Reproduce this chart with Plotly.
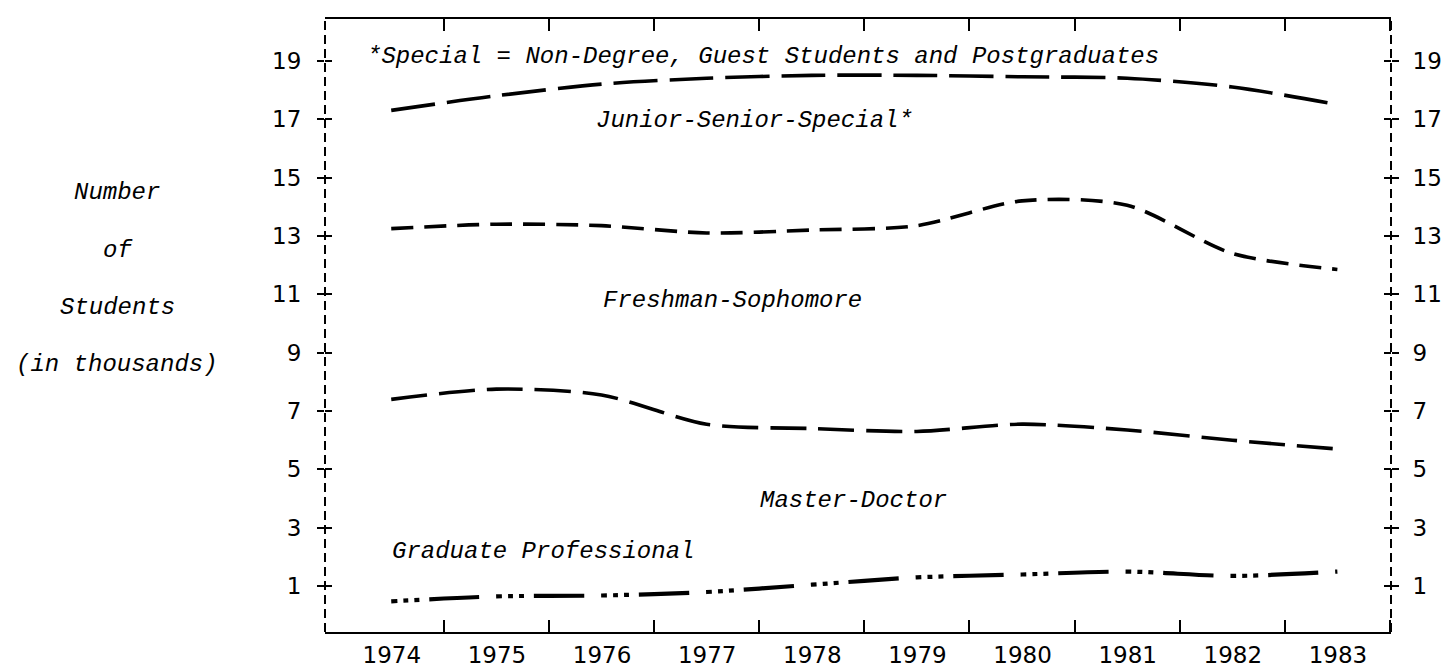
import plotly.graph_objects as go

years = [1974, 1975, 1976, 1977, 1978, 1979, 1980, 1981, 1982, 1983]
junior_senior_special = [17.3, 17.8, 18.2, 18.4, 18.5, 18.5, 18.45, 18.4, 18.1, 17.5]
freshman_sophomore = [13.25, 13.4, 13.35, 13.1, 13.2, 13.35, 14.2, 14.05, 12.4, 11.85]
master_doctor = [7.4, 7.75, 7.55, 6.55, 6.4, 6.3, 6.55, 6.35, 6.0, 5.7]
graduate_professional = [0.48, 0.65, 0.68, 0.8, 1.05, 1.3, 1.4, 1.5, 1.35, 1.5]

y_ticks = [1, 3, 5, 7, 9, 11, 13, 15, 17, 19]
title_lines = ["Number", "of", "Students", "(in thousands)"]
title_levels = [14.5, 12.5, 10.55, 8.6]

TICKFONT = dict(family="DejaVu Sans", size=23, color="black")
TXTFONT = dict(family="Liberation Mono", size=24, color="black", style="italic")

X_RANGE = [1973.37, 1983.51]
Y_RANGE = [-0.57, 20.43]

fig = go.Figure()

series = [
    (junior_senior_special, "44px,12px", "y", 3.6),
    (freshman_sophomore, "22px,11px", "y2", 3.6),
    (master_doctor, "36px,12px", "y3", 3.6),
    (graduate_professional, "6px,6px,5px,6px,5px,10px,50px,17px", "y4", 4.2),
]
for vals, dash, yax, w in series:
    fig.add_trace(go.Scatter(
        x=years, y=vals, mode="lines", yaxis=yax,
        line=dict(color="black", width=w, dash=dash, shape="spline", smoothing=0.8),
        showlegend=False, hoverinfo="skip",
    ))

# ticks sit at the boundaries between years, labels are shifted back to the year centres
boundaries = [y + 0.5 for y in years]

common_y = dict(tickmode="array", tickvals=y_ticks, tickwidth=2, tickcolor="black",
                showgrid=False, zeroline=False, showline=False)

fig.update_layout(
    width=1452, height=669,
    margin=dict(l=317, r=69, t=9, b=29),
    paper_bgcolor="white", plot_bgcolor="white",
    showlegend=False,
    xaxis=dict(
        range=X_RANGE, tickmode="array", tickvals=boundaries, ticktext=[str(y) for y in years],
        ticklabelshift=-52, ticklabelstandoff=1,
        ticks="inside", ticklen=12, tickwidth=2, tickcolor="black",
        showline=True, linecolor="black", linewidth=2, mirror="ticks",
        showgrid=False, zeroline=False, tickfont=TICKFONT,
    ),
    yaxis=dict(range=Y_RANGE, side="left", ticks="outside", ticklen=7,
               tickfont=TICKFONT, ticklabelstandoff=11, **common_y),
    yaxis2=dict(overlaying="y", matches="y", anchor="x", side="right", ticks="outside", ticklen=7,
                tickfont=TICKFONT, ticklabelstandoff=9, **common_y),
    yaxis3=dict(overlaying="y", matches="y", anchor="x", side="left", ticks="inside", ticklen=7,
                showticklabels=False, **common_y),
    yaxis4=dict(overlaying="y", matches="y", anchor="x", side="right", ticks="inside", ticklen=7,
                showticklabels=False, **common_y),
)

# dashed vertical frame lines
for xp in (0, 1):
    fig.add_shape(type="line", xref="paper", yref="paper", x0=xp, x1=xp, y0=0, y1=1,
                  line=dict(color="black", width=2, dash="9px,5px"))

# texts
fig.add_annotation(x=1973.75, y=19.15, xref="x", yref="y", xanchor="left", yanchor="middle",
                   text="*Special = Non-Degree, Guest Students and Postgraduates",
                   showarrow=False, font=TXTFONT)
fig.add_annotation(x=1975.93, y=16.95, xref="x", yref="y", xanchor="left", yanchor="middle",
                   text="Junior-Senior-Special*", showarrow=False, font=TXTFONT)
fig.add_annotation(x=1977.25, y=10.8, xref="x", yref="y", xanchor="center", yanchor="middle",
                   text="Freshman-Sophomore", showarrow=False, font=TXTFONT)
fig.add_annotation(x=1978.4, y=3.95, xref="x", yref="y", xanchor="center", yanchor="middle",
                   text="Master-Doctor", showarrow=False, font=TXTFONT)
fig.add_annotation(x=1973.99, y=2.2, xref="x", yref="y", xanchor="left", yanchor="middle",
                   text="Graduate Professional", showarrow=False, font=TXTFONT)
for line, lvl in zip(title_lines, title_levels):
    fig.add_annotation(x=-0.195, y=lvl, xref="paper", yref="y", xanchor="center", yanchor="middle",
                       text=line, showarrow=False, font=TXTFONT)

fig.write_html("out.html")
